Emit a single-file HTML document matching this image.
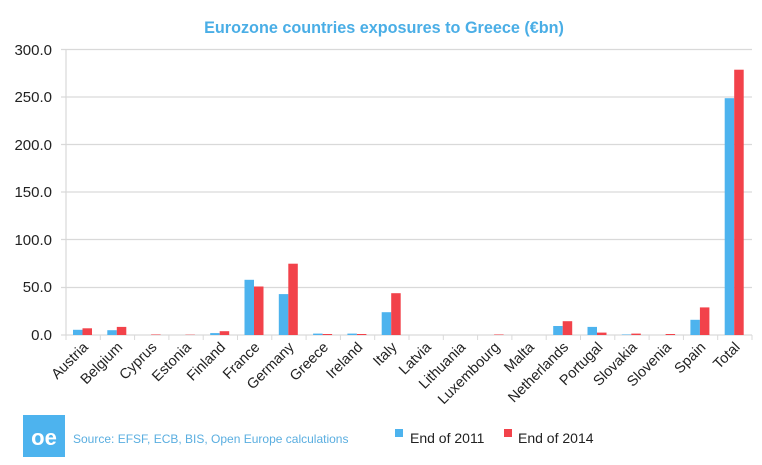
<!DOCTYPE html>
<html><head><meta charset="utf-8"><style>
html,body{margin:0;padding:0;background:#fff;}
svg{display:block;font-family:"Liberation Sans",sans-serif;}
</style></head><body>
<svg width="762" height="465" viewBox="0 0 762 465" xmlns="http://www.w3.org/2000/svg">
<text x="384" y="33" text-anchor="middle" font-size="16.2" font-weight="bold" fill="#4aaee6">Eurozone countries exposures to Greece (€bn)</text>
<g stroke="#d9d9d9" stroke-width="1.2">
<line x1="61" y1="49.5" x2="752" y2="49.5"/><line x1="61" y1="97" x2="752" y2="97"/>
<line x1="61" y1="144.5" x2="752" y2="144.5"/><line x1="61" y1="192" x2="752" y2="192"/>
<line x1="61" y1="239.5" x2="752" y2="239.5"/><line x1="61" y1="287.5" x2="752" y2="287.5"/>
<line x1="61" y1="335" x2="752" y2="335"/>
<line x1="66" y1="49" x2="66" y2="335"/>
</g>
<g stroke="#d9d9d9" stroke-width="1">
<line x1="66" y1="335" x2="66" y2="340"/><line x1="100.3" y1="335" x2="100.3" y2="340"/><line x1="134.6" y1="335" x2="134.6" y2="340"/><line x1="168.9" y1="335" x2="168.9" y2="340"/><line x1="203.2" y1="335" x2="203.2" y2="340"/><line x1="237.5" y1="335" x2="237.5" y2="340"/><line x1="271.8" y1="335" x2="271.8" y2="340"/><line x1="306.1" y1="335" x2="306.1" y2="340"/><line x1="340.4" y1="335" x2="340.4" y2="340"/><line x1="374.7" y1="335" x2="374.7" y2="340"/><line x1="409" y1="335" x2="409" y2="340"/><line x1="443.3" y1="335" x2="443.3" y2="340"/><line x1="477.6" y1="335" x2="477.6" y2="340"/><line x1="511.9" y1="335" x2="511.9" y2="340"/><line x1="546.2" y1="335" x2="546.2" y2="340"/><line x1="580.5" y1="335" x2="580.5" y2="340"/><line x1="614.8" y1="335" x2="614.8" y2="340"/><line x1="649.1" y1="335" x2="649.1" y2="340"/><line x1="683.4" y1="335" x2="683.4" y2="340"/><line x1="717.7" y1="335" x2="717.7" y2="340"/><line x1="752" y1="335" x2="752" y2="340"/>
</g>
<g font-size="15" fill="#222" text-anchor="end">
<text x="52" y="55">300.0</text><text x="52" y="102">250.0</text><text x="52" y="150">200.0</text><text x="52" y="197">150.0</text><text x="52" y="245">100.0</text><text x="52" y="292">50.0</text><text x="52" y="340">0.0</text>
</g>
<g fill="#4db3ee">
<rect x="73" y="329.8" width="9.5" height="5.2"/>
<rect x="107.3" y="330.2" width="9.5" height="4.8"/>
<rect x="210.2" y="333.1" width="9.5" height="1.9"/>
<rect x="244.5" y="279.8" width="9.5" height="55.2"/>
<rect x="278.8" y="294.1" width="9.5" height="40.9"/>
<rect x="313.1" y="333.6" width="9.5" height="1.4"/>
<rect x="347.4" y="333.6" width="9.5" height="1.4"/>
<rect x="381.7" y="312.2" width="9.5" height="22.8"/>
<rect x="553.2" y="326" width="9.5" height="9"/>
<rect x="587.5" y="326.9" width="9.5" height="8.1"/>
<rect x="621.8" y="334.5" width="9.5" height="0.5"/>
<rect x="690.4" y="319.8" width="9.5" height="15.2"/>
<rect x="724.7" y="98.2" width="9.5" height="236.8"/>
</g>
<g fill="#f2424a">
<rect x="82.5" y="328.3" width="9.5" height="6.7"/>
<rect x="116.8" y="326.9" width="9.5" height="8.1"/>
<rect x="151.1" y="334.5" width="9.5" height="0.5"/>
<rect x="185.4" y="334.7" width="9.5" height="0.3"/>
<rect x="219.7" y="331.2" width="9.5" height="3.8"/>
<rect x="254" y="286.5" width="9.5" height="48.5"/>
<rect x="288.3" y="263.7" width="9.5" height="71.3"/>
<rect x="322.6" y="334" width="9.5" height="1"/>
<rect x="356.9" y="334" width="9.5" height="1"/>
<rect x="391.2" y="293.2" width="9.5" height="41.8"/>
<rect x="494.1" y="334.5" width="9.5" height="0.5"/>
<rect x="562.7" y="321.2" width="9.5" height="13.8"/>
<rect x="597" y="332.6" width="9.5" height="2.4"/>
<rect x="631.3" y="333.6" width="9.5" height="1.4"/>
<rect x="665.6" y="334" width="9.5" height="1"/>
<rect x="699.9" y="307.4" width="9.5" height="27.6"/>
<rect x="734.2" y="69.7" width="9.5" height="265.3"/>
</g>
<g font-size="14.5" fill="#222" text-anchor="end">
<text transform="translate(89,348) rotate(-45)">Austria</text>
<text transform="translate(123.3,348) rotate(-45)">Belgium</text>
<text transform="translate(157.6,348) rotate(-45)">Cyprus</text>
<text transform="translate(191.9,348) rotate(-45)">Estonia</text>
<text transform="translate(226.2,348) rotate(-45)">Finland</text>
<text transform="translate(260.5,348) rotate(-45)">France</text>
<text transform="translate(294.8,348) rotate(-45)">Germany</text>
<text transform="translate(329.1,348) rotate(-45)">Greece</text>
<text transform="translate(363.4,348) rotate(-45)">Ireland</text>
<text transform="translate(397.7,348) rotate(-45)">Italy</text>
<text transform="translate(432,348) rotate(-45)">Latvia</text>
<text transform="translate(466.3,348) rotate(-45)">Lithuania</text>
<text transform="translate(500.6,348) rotate(-45)">Luxembourg</text>
<text transform="translate(534.9,348) rotate(-45)">Malta</text>
<text transform="translate(569.2,348) rotate(-45)">Netherlands</text>
<text transform="translate(603.5,348) rotate(-45)">Portugal</text>
<text transform="translate(637.8,348) rotate(-45)">Slovakia</text>
<text transform="translate(672.1,348) rotate(-45)">Slovenia</text>
<text transform="translate(706.4,348) rotate(-45)">Spain</text>
<text transform="translate(740.7,348) rotate(-45)">Total</text>
</g>
<rect x="23" y="415" width="42" height="42" fill="#4db3ee"/>
<text x="44" y="445" text-anchor="middle" font-size="22" font-weight="bold" fill="#fff">oe</text>
<text x="73" y="443" font-size="12" fill="#5aaee0">Source: EFSF, ECB, BIS, Open Europe calculations</text>
<rect x="395" y="429" width="8" height="8" fill="#4db3ee"/>
<text x="410" y="443" font-size="14" fill="#222">End of 2011</text>
<rect x="504" y="429" width="8" height="8" fill="#f2424a"/>
<text x="518" y="443" font-size="14" fill="#222">End of 2014</text>
</svg>
</body></html>
